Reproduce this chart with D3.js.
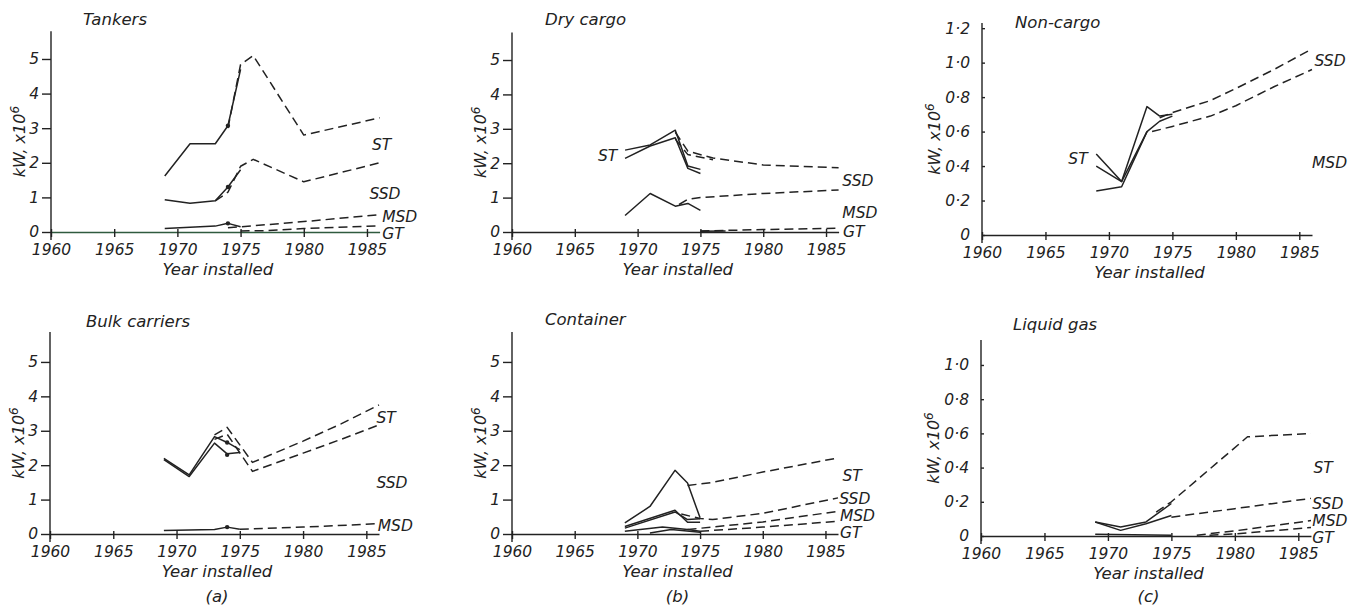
<!DOCTYPE html>
<html>
<head>
<meta charset="utf-8">
<script src="https://cdnjs.cloudflare.com/ajax/libs/d3/7.8.5/d3.min.js"></script>
<style>
body { margin: 0; background: #fff; }
svg text { font-family: "DejaVu Sans", "Liberation Sans", sans-serif; font-style: italic; font-size: 16.5px; fill: #222; }
svg .tick text { font-size: 15.5px; }
svg text.lbl { font-size: 15.5px; }
</style>
</head>
<body>
<svg width="1360" height="609"></svg>
<script>
// installed power, kW x 10^6, [year, value]
// solid = recorded, *fc = dashed forecast

// Tankers
var tankersST = [[1969, 1.62], [1971, 2.55], [1973, 2.55], [1974, 3.07], [1975, 4.7]];
var tankersSTfc = [[1974, 3.0], [1975, 4.84], [1976, 5.1], [1980, 2.8], [1986, 3.3]];
var tankersSSD = [[1969, 0.93], [1971, 0.83], [1973, 0.9], [1974, 1.3], [1975, 1.8]];
var tankersSSDfc = [[1973, 0.9], [1974, 1.15], [1975, 1.9], [1976, 2.1], [1980, 1.45], [1986, 2.0]];
var tankersMSD = [[1969, 0.1], [1973, 0.17], [1974, 0.25], [1975, 0.15]];
var tankersMSDfc = [[1974, 0.12], [1980, 0.3], [1986, 0.5]];
var tankersGTfc = [[1975, 0.03], [1977, 0.04], [1980, 0.1], [1986, 0.18]];
var tankersDots = [[1974, 3.07], [1974, 1.3], [1974, 0.25]];

// Dry cargo
var dryST = [[1969, 2.38], [1971, 2.53], [1973, 2.96], [1974, 1.92], [1975, 1.82]];
var dryST2 = [[1969, 2.14], [1971, 2.5], [1973, 2.74], [1974, 1.85], [1975, 1.7]];
var drySTfc = [[1973, 2.9], [1974, 2.35], [1976, 2.15], [1980, 1.95], [1986, 1.87]];
var drySTfc2 = [[1973, 2.7], [1974, 2.25], [1976, 2.1]];
var dryMSD = [[1969, 0.48], [1971, 1.12], [1973, 0.75], [1974, 0.83], [1975, 0.63]];
var dryMSDfc = [[1973.3, 0.8], [1974, 0.95], [1975, 1.0], [1980, 1.12], [1986, 1.22]];
var dryGT = [[1975, 0.02], [1977, 0.03]];
var dryGTfc = [[1975, 0.03], [1980, 0.07], [1986, 0.11]];

// Non-cargo
var ncST1 = [[1969, 0.47], [1971, 0.31], [1973, 0.745], [1974, 0.69], [1975, 0.7]];
var ncST2 = [[1969, 0.40], [1971, 0.31], [1973, 0.6], [1974, 0.66], [1975, 0.69]];
var ncMSD = [[1969, 0.255], [1971, 0.28], [1973, 0.6]];
var ncSSDfc = [[1974, 0.68], [1975, 0.71], [1978, 0.78], [1980, 0.85], [1983, 0.96], [1986, 1.08]];
var ncMSDfc = [[1973.4, 0.6], [1975, 0.63], [1978, 0.69], [1980, 0.75], [1983, 0.86], [1986, 0.96]];

// Bulk carriers
var bulkST = [[1969, 2.2], [1971, 1.72], [1973, 2.83], [1974, 2.66], [1975, 2.45]];
var bulkSSD = [[1969, 2.16], [1971, 1.67], [1973, 2.64], [1974, 2.33], [1975, 2.37]];
var bulkSTfc = [[1973, 2.88], [1974, 3.1], [1976, 2.08], [1980, 2.7], [1983, 3.2], [1986, 3.75]];
var bulkSSDfc = [[1973, 2.75], [1974, 2.9], [1976, 1.82], [1980, 2.35], [1983, 2.75], [1986, 3.17]];
var bulkMSD = [[1969, 0.1], [1973, 0.13], [1974, 0.2], [1975, 0.14]];
var bulkMSDfc = [[1975, 0.14], [1980, 0.2], [1986, 0.3]];
var bulkDots = [[1974, 2.66], [1974, 2.3], [1974, 0.2]];

// Container
var conST = [[1969, 0.32], [1971, 0.8], [1973, 1.85], [1974, 1.48], [1975, 0.47]];
var conSTfc = [[1974, 1.41], [1976, 1.5], [1980, 1.8], [1986, 2.21]];
var conSSD = [[1969, 0.22], [1973, 0.69], [1974, 0.34], [1975, 0.34]];
var conSSD2 = [[1969, 0.17], [1973, 0.64], [1974, 0.42], [1975, 0.44]];
var conSSDfc = [[1973.5, 0.58], [1975, 0.45], [1976, 0.42], [1980, 0.6], [1986, 1.05]];
var conMSD = [[1969, 0.08], [1972, 0.2], [1974, 0.13], [1975, 0.08]];
var conMSDfc = [[1974, 0.13], [1980, 0.35], [1986, 0.66]];
var conGT = [[1971, 0.03], [1972.7, 0.13], [1975, 0.05]];
var conGTfc = [[1975, 0.08], [1980, 0.2], [1986, 0.37]];

// Liquid gas
var lgST = [[1969, 0.082], [1971, 0.053], [1973, 0.082], [1975, 0.19]];
var lgST2 = [[1969, 0.082], [1971, 0.033], [1973, 0.072], [1975, 0.12]];
var lgSTfc = [[1973.8, 0.14], [1975, 0.2], [1981, 0.58], [1986, 0.6]];
var lgSSDfc = [[1975, 0.11], [1980, 0.16], [1986, 0.22]];
var lgMSDfc = [[1977, 0.005], [1980, 0.03], [1986, 0.09]];
var lgGTfc = [[1978, 0.005], [1980, 0.012], [1986, 0.05]];
var lgBase = [[1969, 0.01], [1975, 0.005]];

var xTicks = [1960, 1965, 1970, 1975, 1980, 1985];
var yTicksBig = [0, 1, 2, 3, 4, 5];
var yTicksSmall = [0, 0.2, 0.4, 0.6, 0.8, 1.0, 1.2];
var yTicksGas = [0, 0.2, 0.4, 0.6, 0.8, 1.0];

function s(d) { return {d: d, dash: false}; }
function f(d) { return {d: d, dash: true}; }

var panels = [
    {title: "Tankers", tx: 83, ty: 25, x: [51, 379.6], y: [232, 31.3], ymax: 5.8, yticks: yTicksBig, small: false,
        series: [s(tankersST), f(tankersSTfc), s(tankersSSD), f(tankersSSDfc), s(tankersMSD), f(tankersMSDfc), f(tankersGTfc)],
        dots: tankersDots, base: "#2f5a3e",
        labels: [["ST", 1985.4, 2.37], ["SSD", 1985.2, 0.95], ["MSD", 1986.2, 0.29], ["GT", 1986.2, -0.2]]},
    {title: "Dry cargo", tx: 545, ty: 25, x: [512, 838.6], y: [232, 32.5], ymax: 5.8, yticks: yTicksBig, small: false,
        series: [s(dryST), s(dryST2), f(drySTfc), f(drySTfc2), s(dryMSD), f(dryMSDfc), s(dryGT), f(dryGTfc)],
        dots: [],
        labels: [["ST", 1966.85, 2.05], ["SSD", 1986.3, 1.33], ["MSD", 1986.3, 0.4], ["GT", 1986.35, -0.14]]},
    {title: "Non-cargo", tx: 1015, ty: 28, x: [982, 1312], y: [235, 23], ymax: 1.23, yticks: yTicksSmall, small: true,
        series: [s(ncST1), s(ncST2), s(ncMSD), f(ncSSDfc), f(ncMSDfc)],
        dots: [],
        labels: [["ST", 1966.8, 0.41], ["SSD", 1986.2, 0.98], ["MSD", 1986.0, 0.39]]},
    {title: "Bulk carriers", tx: 86, ty: 327, x: [50, 379], y: [534, 332], ymax: 5.87, yticks: yTicksBig, small: false,
        series: [s(bulkST), s(bulkSSD), f(bulkSTfc), f(bulkSSDfc), s(bulkMSD), f(bulkMSDfc)],
        dots: bulkDots, caption: "(a)",
        labels: [["ST", 1985.8, 3.23], ["SSD", 1985.8, 1.34], ["MSD", 1985.9, 0.09]]},
    {title: "Container", tx: 545, ty: 325, x: [512, 838], y: [534, 332], ymax: 5.87, yticks: yTicksBig, small: false,
        series: [s(conST), f(conSTfc), s(conSSD), s(conSSD2), f(conSSDfc), s(conMSD), f(conMSDfc), s(conGT), f(conGTfc)],
        dots: [], caption: "(b)",
        labels: [["ST", 1986.35, 1.54], ["SSD", 1986.1, 0.87], ["MSD", 1986.15, 0.38], ["GT", 1986.15, -0.12]]},
    {title: "Liquid gas", tx: 1013, ty: 330, x: [981, 1311], y: [536, 340], ymax: 1.146, yticks: yTicksGas, small: true,
        series: [s(lgST), s(lgST2), f(lgSTfc), f(lgSSDfc), f(lgMSDfc), f(lgGTfc), s(lgBase)],
        dots: [], caption: "(c)",
        labels: [["ST", 1986.2, 0.37], ["SSD", 1986.1, 0.16], ["MSD", 1986.1, 0.058], ["GT", 1986.1, -0.042]]}
];

var svg = d3.select("svg");
var ink = "#222";

panels.forEach(function (p) {
    var x = d3.scaleLinear().domain([1960, 1986]).range(p.x);
    var y = d3.scaleLinear().domain([0, p.ymax]).range(p.y);
    var g = svg.append("g");

    var xa = g.append("g")
        .attr("transform", "translate(0," + y(0) + ")")
        .attr("color", ink)
        .call(d3.axisBottom(x).tickValues(xTicks).tickFormat(d3.format("d"))
            .tickSize(5).tickSizeOuter(0).tickPadding(7));
    xa.selectAll(".tick line").attr("y1", -3);
    if (p.base) xa.select(".domain").attr("stroke", p.base);

    var yfmt = p.small
        ? function (d) { return d === 0 ? "0" : d3.format(".1f")(d).replace(".", "\u00b7"); }
        : d3.format("d");
    var ya = g.append("g")
        .attr("transform", "translate(" + x(1960) + ",0)")
        .attr("color", ink)
        .call(d3.axisLeft(y).tickValues(p.yticks).tickFormat(yfmt)
            .tickSize(9).tickSizeOuter(0).tickPadding(3));
    if (p.small) ya.selectAll(".tick line").attr("x2", 3);
    // axis runs a little below zero
    ya.select(".domain").attr("d", "M0," + (y(0) + 8) + "V" + y(p.ymax));

    g.selectAll(".domain, .tick line").attr("stroke-width", 1.4);

    var line = d3.line()
        .x(function (d) { return x(d[0]); })
        .y(function (d) { return y(d[1]); });

    g.selectAll("path.series")
        .data(p.series)
        .enter()
        .append("path")
        .attr("class", "series")
        .attr("fill", "none")
        .attr("stroke", ink)
        .attr("stroke-width", 1.5)
        .attr("stroke-linejoin", "round")
        .attr("stroke-dasharray", function (d) { return d.dash ? "9,5" : null; })
        .attr("d", function (d) { return line(d.d); });

    g.selectAll("circle")
        .data(p.dots)
        .enter()
        .append("circle")
        .attr("cx", function (d) { return x(d[0]); })
        .attr("cy", function (d) { return y(d[1]); })
        .attr("r", 2.2)
        .attr("fill", ink);

    g.selectAll("text.lbl")
        .data(p.labels)
        .enter()
        .append("text")
        .attr("class", "lbl")
        .attr("x", function (d) { return x(d[1]); })
        .attr("y", function (d) { return y(d[2]); })
        .text(function (d) { return d[0]; });

    g.append("text")
        .attr("x", p.tx)
        .attr("y", p.ty)
        .text(p.title);

    g.append("text")
        .attr("x", x(1973.2))
        .attr("y", y(0) + 43)
        .attr("text-anchor", "middle")
        .text("Year installed");

    var yt = g.append("text")
        .attr("transform", "translate(" + (x(1960) - (p.small ? 42 : 26)) + "," + ((p.y[0] + p.y[1]) / 2 + 10) + ") rotate(-90)")
        .attr("text-anchor", "middle")
        .style("font-size", "16px");
    yt.append("tspan").text("kW, x10");
    yt.append("tspan").attr("dy", -6).style("font-size", "12px").text("6");

    if (p.caption) {
        g.append("text")
            .attr("x", x(1973.2))
            .attr("y", 602)
            .attr("text-anchor", "middle")
            .text(p.caption);
    }
});
</script>
</body>
</html>
